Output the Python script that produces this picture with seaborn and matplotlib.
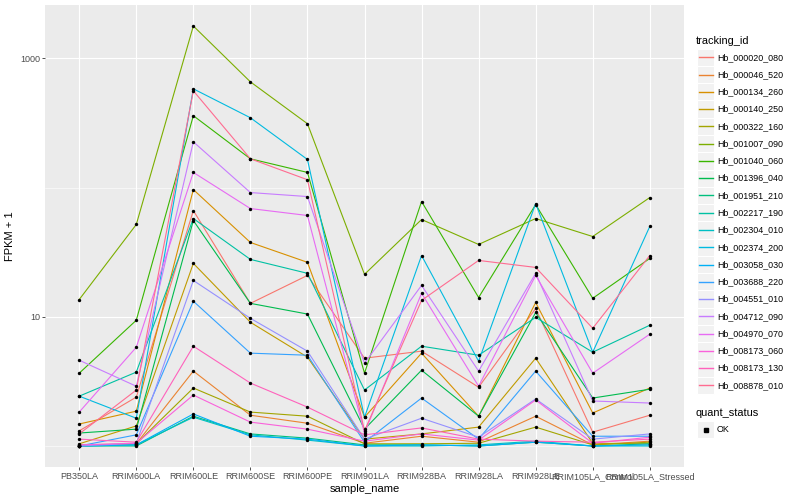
import numpy as np
import pandas as pd
import matplotlib
matplotlib.use("Agg")
import matplotlib.pyplot as plt
import seaborn as sns
from matplotlib.patches import Rectangle
from matplotlib.lines import Line2D

# ---------------- data ----------------
samples = ["PB350LA", "RRIM600LA", "RRIM600LE", "RRIM600SE", "RRIM600PE",
           "RRIM901LA", "RRIM928BA", "RRIM928LA", "RRIM928LE",
           "RRIM105LA_Control", "RRIM105LA_Stressed"]

tracking_ids = ["Hb_000020_080", "Hb_000046_520", "Hb_000134_260", "Hb_000140_250",
                "Hb_000322_160", "Hb_001007_090", "Hb_001040_060", "Hb_001396_040",
                "Hb_001951_210", "Hb_002217_190", "Hb_002304_010", "Hb_002374_200",
                "Hb_003058_030", "Hb_003688_220", "Hb_004551_010", "Hb_004712_090",
                "Hb_004970_070", "Hb_008173_060", "Hb_008173_130", "Hb_008878_010"]

# FPKM + 1 per sample (order of `samples`)
hb_000020_080 = [1.31, 2.39, 66.4, 12.7, 20.9, 4.78, 5.42, 2.85, 11.6, 1.28, 1.73]
hb_000046_520 = [1.02, 1.04, 3.80, 1.73, 1.50, 1.05, 1.19, 1.07, 1.70, 1.02, 1.09]
hb_000134_260 = [1.48, 1.86, 96.5, 37.6, 26.4, 1.67, 5.23, 1.70, 12.9, 1.80, 2.81]
hb_000140_250 = [1.04, 1.43, 25.9, 9.07, 4.87, 1.13, 1.24, 1.40, 4.78, 1.05, 1.04]
hb_000322_160 = [1.00, 1.04, 2.81, 1.83, 1.70, 1.04, 1.04, 1.05, 1.40, 1.02, 1.07]
hb_001007_090 = [13.6, 51.8, 1780, 658, 312, 21.3, 56.6, 36.3, 57.6, 41.8, 83.7]
hb_001040_060 = [3.66, 9.40, 360, 167, 131, 3.66, 78.0, 14.1, 73.9, 13.9, 28.3]
hb_001396_040 = [1.26, 1.35, 55.6, 12.7, 10.5, 1.35, 3.86, 1.70, 10.8, 2.35, 2.75]
hb_001951_210 = [1.00, 1.00, 1.70, 1.24, 1.15, 1.02, 1.02, 1.00, 1.07, 1.00, 1.04]
hb_002217_190 = [2.43, 3.73, 57.6, 27.8, 21.7, 2.71, 5.92, 5.04, 9.90, 5.32, 8.60]
hb_002304_010 = [1.00, 1.02, 1.67, 1.22, 1.11, 1.00, 1.00, 1.02, 1.09, 1.00, 1.00]
hb_002374_200 = [2.43, 1.64, 581, 347, 165, 1.67, 29.8, 4.53, 75.2, 5.32, 50.0]
hb_003058_030 = [1.00, 1.02, 1.77, 1.19, 1.13, 1.00, 1.02, 1.00, 1.07, 1.00, 1.02]
hb_003688_220 = [1.00, 1.22, 13.2, 5.23, 5.04, 1.07, 2.35, 1.13, 3.80, 1.19, 1.19]
hb_004551_010 = [1.00, 1.05, 19.1, 9.73, 5.42, 1.13, 1.64, 1.17, 2.31, 1.13, 1.24]
hb_004712_090 = [4.61, 2.90, 226, 91.5, 85.2, 4.37, 17.5, 3.80, 21.7, 2.23, 2.15]
hb_004970_070 = [1.83, 5.81, 131, 68.8, 60.8, 1.26, 15.2, 2.90, 20.9, 3.66, 7.33]
hb_008173_060 = [1.02, 1.05, 2.48, 1.53, 1.35, 1.09, 1.24, 1.11, 2.27, 1.05, 1.17]
hb_008173_130 = [1.13, 1.07, 5.92, 3.07, 2.00, 1.22, 1.38, 1.13, 1.09, 1.07, 1.13]
hb_008878_010 = [1.24, 2.71, 561, 167, 115, 1.31, 13.4, 27.3, 24.1, 8.15, 29.8]

series_values = [hb_000020_080, hb_000046_520, hb_000134_260, hb_000140_250,
                 hb_000322_160, hb_001007_090, hb_001040_060, hb_001396_040,
                 hb_001951_210, hb_002217_190, hb_002304_010, hb_002374_200,
                 hb_003058_030, hb_003688_220, hb_004551_010, hb_004712_090,
                 hb_004970_070, hb_008173_060, hb_008173_130, hb_008878_010]

palette = ["#F8766D", "#EA8331", "#D89000", "#C09B00", "#A3A500", "#7CAE00",
           "#39B600", "#00BB4E", "#00BF7D", "#00C1A3", "#00BFC4", "#00BAE0",
           "#00B0F6", "#35A2FF", "#9590FF", "#C77CFF", "#E76BF3", "#FA62DB",
           "#FF62BC", "#FF6C91"]

y_tick_values = [10, 1000]
y_tick_labels = ["10", "1000"]
y_minor_values = [1, 100]

rows = []
for tid, vals in zip(tracking_ids, series_values):
    for s, v in zip(samples, vals):
        rows.append({"tracking_id": tid, "sample_name": s, "fpkm1": v, "quant_status": "OK"})
df = pd.DataFrame(rows)
df["sample_name"] = pd.Categorical(df["sample_name"], categories=samples, ordered=True)
df["xpos"] = df["sample_name"].cat.codes

# ---------------- style ----------------
plt.rcParams['font.family'] = ['Liberation Sans', 'DejaVu Sans']
W, H = 800, 500
fig = plt.figure(figsize=(8, 5), dpi=100)
fig.patch.set_facecolor("white")
ax = fig.add_axes([45 / W, 1 - 467 / H, 639 / W, 462 / H])
ax.set_facecolor("#EBEBEB")

sns.lineplot(data=df, x="xpos", y="fpkm1", hue="tracking_id", hue_order=tracking_ids,
             palette=palette, estimator=None, sort=False, units="tracking_id",
             legend=False, ax=ax, linewidth=0.8, zorder=2)
sns.scatterplot(data=df, x="xpos", y="fpkm1", color="black", marker="o", s=6,
                linewidth=0, legend=False, ax=ax, zorder=3)

ax.set_yscale("log")
ax.set_ylim(10 ** -0.1626, 10 ** 3.413)
ax.set_xlim(-0.6, len(samples) - 1 + 0.6)
ax.set_xticks(range(len(samples)))
ax.set_xticklabels(samples)
ax.set_yticks(y_tick_values)
ax.set_yticklabels(y_tick_labels)
ax.yaxis.set_minor_locator(matplotlib.ticker.FixedLocator(y_minor_values))
ax.yaxis.set_minor_formatter(matplotlib.ticker.NullFormatter())

ax.grid(True, which="major", color="white", linewidth=0.8)
ax.grid(True, which="minor", axis="y", color="white", linewidth=0.4)
ax.set_axisbelow(True)
for sp in ax.spines.values():
    sp.set_visible(False)
ax.tick_params(axis="both", which="major", length=2, width=0.6, color="#333333",
               labelcolor="#4D4D4D", labelsize=6.5, pad=1.5)
ax.tick_params(axis="y", which="minor", length=0)

ax.set_xlabel("sample_name", fontsize=8, color="black", labelpad=2)
ax.set_ylabel("FPKM + 1", fontsize=8, color="black", labelpad=4)

# ---------------- legend (ggplot-like) ----------------
def fx(x):
    return x / W

def fy(y):
    return 1 - y / H

key = 17.28
kx0 = 697
fig.text(fx(696), fy(41), "tracking_id", fontsize=7.9, va="center", ha="left")
for i, (tid, col) in enumerate(zip(tracking_ids, palette)):
    yc = 57.3 + i * 17.27
    fig.add_artist(Rectangle((fx(kx0), fy(yc + key / 2)), key / W, key / H,
                             transform=fig.transFigure, facecolor="#F2F2F2",
                             edgecolor="white", linewidth=0.8, zorder=1))
    fig.add_artist(Line2D([fx(kx0 + 1.5), fx(kx0 + key - 1.5)], [fy(yc), fy(yc)],
                          transform=fig.transFigure, color=col, linewidth=1.0, zorder=3))
    fig.text(fx(717), fy(yc), tid, fontsize=6.4, va="center", ha="left")

fig.text(fx(696), fy(413), "quant_status", fontsize=7.9, va="center", ha="left")
yc = 429.5
fig.add_artist(Rectangle((fx(kx0), fy(yc + key / 2)), key / W, key / H,
                         transform=fig.transFigure, facecolor="#F2F2F2",
                         edgecolor="white", linewidth=0.8, zorder=1))
fig.add_artist(Line2D([fx(kx0 + key / 2)], [fy(yc)], transform=fig.transFigure,
                      color="black", marker="s", markersize=2.4, linestyle="none", zorder=3))
fig.text(fx(717), fy(yc), "OK", fontsize=6.4, va="center", ha="left")

fig.savefig("out.png", dpi=100)
